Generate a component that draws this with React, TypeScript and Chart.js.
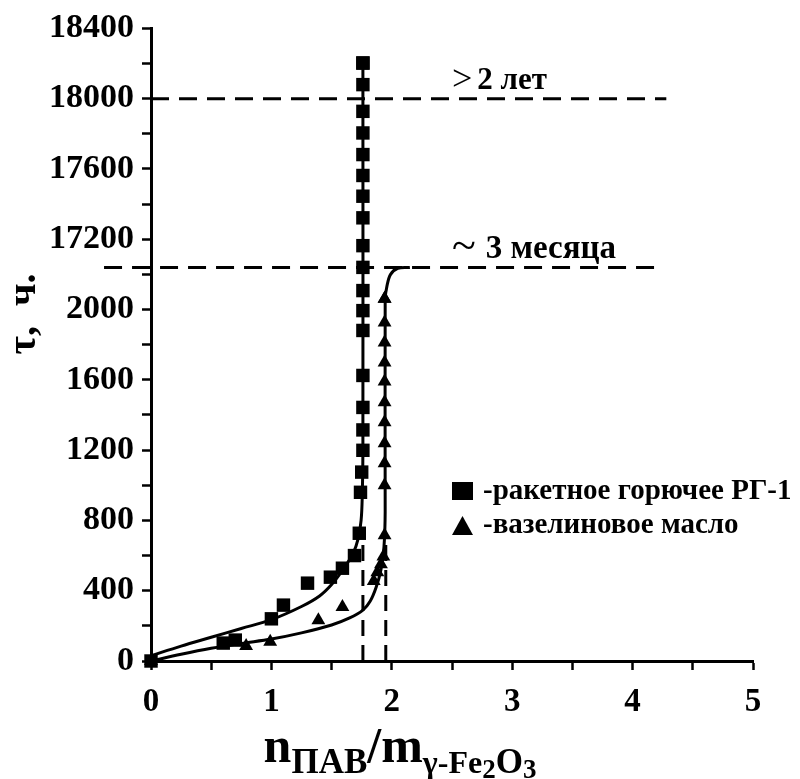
import React, { useEffect, useRef } from 'react';
import { Chart, registerables } from 'chart.js';

Chart.register(...registerables);

const SERIF = '"Liberation Serif", "Times New Roman", serif';

// ---- tick labels (broken y axis: 0..2000 and 17200..18400, one label per 400 h step)
const Y_TICK_LABELS = ['0', '400', '800', '1200', '1600', '2000', '17200', '17600', '18000', '18400'];
const X_TICK_LABELS = ['0', '1', '2', '3', '4', '5'];

// ---- ракетное горючее РГ-1 (squares): x = n/m, y = hours
const RG1_X = [0, 0.6, 0.7, 1.0, 1.1, 1.3, 1.49, 1.59, 1.69, 1.73, 1.74, 1.75, 1.76, 1.76, 1.76, 1.76, 1.76, 1.76, 1.76, 1.76, 1.76, 1.76, 1.76, 1.76, 1.76, 1.76, 1.76, 1.76, 1.76, 1.76];
const RG1_H = [0, 102, 119, 240, 318, 443, 477, 528, 600, 727, 960, 1075, 1199, 1315, 1443, 1625, 1881, 1994, 2108, 2240, 13800, 17322, 17445, 17563, 17682, 17805, 17928, 18080, 18203, 18203];

// ---- вазелиновое масло (triangles)
const VAS_X = [0, 0.79, 0.99, 1.39, 1.59, 1.85, 1.88, 1.91, 1.93, 1.94, 1.94, 1.94, 1.94, 1.94, 1.94, 1.94, 1.94, 1.94, 1.94, 1.94, 1.94];
const VAS_H = [0, 85, 110, 232, 308, 455, 505, 550, 595, 716, 1000, 1125, 1239, 1358, 1472, 1591, 1699, 1812, 1926, 2062, 2062];

// ---- fitted curves
const RG1_FIT_X = [0, 0.25, 0.5, 0.75, 1.0, 1.25, 1.4, 1.5, 1.6, 1.68, 1.72, 1.745, 1.755, 1.76, 1.76];
const RG1_FIT_H = [30, 85, 135, 185, 235, 310, 370, 435, 525, 615, 695, 800, 950, 1200, 18203];
const VAS_FIT_X = [0, 0.25, 0.5, 0.75, 1.0, 1.25, 1.5, 1.65, 1.76, 1.82, 1.87, 1.91, 1.935, 1.945, 1.945, 1.96, 1.99, 2.05, 2.15];
const VAS_FIT_H = [0, 38, 72, 100, 125, 160, 205, 245, 290, 340, 420, 520, 650, 850, 2060, 2135, 2200, 2235, 2240];

// ---- reference levels
const LEVEL_2Y_H = 18000;
const LEVEL_2Y_X = [0, 4.28];
const LEVEL_3M_H = 2240;
const LEVEL_3M_X = [-0.39, 4.25];
const CRIT_X = [1.76, 1.95];
const CRIT_TOP_H = [720, 700];

const LABEL_2Y = '2 лет';
const LABEL_3M = '3 месяца';
const LEGEND_RG1 = '-ракетное горючее РГ-1';
const LEGEND_VAS = '-вазелиновое масло';

// broken-axis mapping: hours -> axis position (one unit per 400 h step)
const BREAK_LOW = 2240;
const BREAK_HIGH = 17200;
function toAxis(h: number): number {
  if (h <= BREAK_LOW) return h / 400;
  if (h >= BREAK_HIGH) return 6 + (h - BREAK_HIGH) / 400;
  return BREAK_LOW / 400 + ((h - BREAK_LOW) / (BREAK_HIGH - BREAK_LOW)) * (6 - BREAK_LOW / 400);
}
const pts = (xs: number[], hs: number[]) => xs.map((x, i) => ({ x, y: toAxis(hs[i]) }));

const overlay = {
  id: 'overlay',
  afterDraw(chart: any) {
    const { ctx, scales } = chart;
    const xs = scales.x;
    const ys = scales.y;
    ctx.save();
    ctx.fillStyle = '#000';
    ctx.strokeStyle = '#000';

    // y axis title
    ctx.save();
    ctx.translate(25, 314);
    ctx.rotate(-Math.PI / 2);
    ctx.textAlign = 'center';
    ctx.textBaseline = 'middle';
    ctx.font = `bold 40px ${SERIF}`;
    ctx.fillText('τ,  ч.', 0, 0);
    ctx.restore();

    // x axis title with subscripts
    const parts: [string, number, number][] = [
      ['n', 50, 0],
      ['ПАВ', 35, 11],
      ['/m', 50, 0],
      ['γ-Fe', 32, 11],
      ['2', 27, 16],
      ['O', 35, 11],
      ['3', 27, 16],
    ];
    let total = 0;
    for (const [t, s] of parts) {
      ctx.font = `bold ${s}px ${SERIF}`;
      total += ctx.measureText(t).width;
    }
    let cx = 400 - total / 2;
    ctx.textAlign = 'left';
    ctx.textBaseline = 'alphabetic';
    for (const [t, s, off] of parts) {
      ctx.font = `bold ${s}px ${SERIF}`;
      ctx.fillText(t, cx, 762 + off);
      cx += ctx.measureText(t).width;
    }

    // level annotations
    const ax = xs.getPixelForValue(2.5);
    const y2 = ys.getPixelForValue(toAxis(LEVEL_2Y_H)) - 10;
    ctx.font = `36px ${SERIF}`;
    ctx.fillText('>', ax, y2 + 1);
    let w = ctx.measureText('>').width;
    ctx.font = `bold 31px ${SERIF}`;
    ctx.fillText(LABEL_2Y, ax + w + 5, y2);

    const y3 = ys.getPixelForValue(toAxis(LEVEL_3M_H)) - 9;
    ctx.font = `44px ${SERIF}`;
    ctx.fillText('~', ax, y3 + 2);
    w = ctx.measureText('~').width;
    ctx.font = `bold 33px ${SERIF}`;
    ctx.fillText(LABEL_3M, ax + w + 10, y3);

    // legend
    const lx = ax;
    ctx.fillRect(lx, 482, 21, 18);
    ctx.font = `bold 29px ${SERIF}`;
    ctx.fillText(LEGEND_RG1, lx + 31, 499);
    ctx.beginPath();
    ctx.moveTo(lx + 10.5, 516);
    ctx.lineTo(lx + 21, 535);
    ctx.lineTo(lx, 535);
    ctx.closePath();
    ctx.fill();
    ctx.fillText(LEGEND_VAS, lx + 31, 533);

    ctx.restore();
  },
};

export default function App() {
  const ref = useRef<HTMLCanvasElement | null>(null);
  useEffect(() => {
    if (!ref.current) return;
    const dash = [18, 10];
    const chart = new Chart(ref.current, {
      type: 'scatter',
      data: {
        datasets: [
          {
            label: 'lvl2y',
            data: LEVEL_2Y_X.map((x) => ({ x, y: toAxis(LEVEL_2Y_H) })),
            showLine: true, borderColor: '#000', borderWidth: 3, borderDash: dash, pointRadius: 0, clip: false,
          } as any,
          {
            label: 'lvl3m',
            data: LEVEL_3M_X.map((x) => ({ x, y: toAxis(LEVEL_3M_H) })),
            showLine: true, borderColor: '#000', borderWidth: 3, borderDash: dash, pointRadius: 0, clip: false,
          },
          {
            label: 'crit1',
            data: [{ x: CRIT_X[0], y: 0 }, { x: CRIT_X[0], y: toAxis(CRIT_TOP_H[0]) }],
            showLine: true, borderColor: '#000', borderWidth: 3, borderDash: [16, 9], pointRadius: 0,
          },
          {
            label: 'crit2',
            data: [{ x: CRIT_X[1], y: 0 }, { x: CRIT_X[1], y: toAxis(CRIT_TOP_H[1]) }],
            showLine: true, borderColor: '#000', borderWidth: 3, borderDash: [16, 9], pointRadius: 0,
          },
          {
            label: 'fitRG1',
            data: pts(RG1_FIT_X, RG1_FIT_H),
            showLine: true, borderColor: '#000', borderWidth: 3, pointRadius: 0, tension: 0.35, clip: false,
          },
          {
            label: 'fitVAS',
            data: pts(VAS_FIT_X, VAS_FIT_H),
            showLine: true, borderColor: '#000', borderWidth: 3, pointRadius: 0, tension: 0.35, clip: false,
          },
          {
            label: 'ракетное горючее РГ-1',
            data: pts(RG1_X, RG1_H),
            pointStyle: 'rect', pointRadius: 9.5, backgroundColor: '#000', borderColor: '#000', borderWidth: 0, clip: false,
          },
          {
            label: 'вазелиновое масло',
            data: pts(VAS_X, VAS_H),
            pointStyle: 'triangle', pointRadius: 8, backgroundColor: '#000', borderColor: '#000', borderWidth: 0, clip: false,
          },
        ],
      },
      options: {
        responsive: false,
        animation: false,
        layout: { padding: { top: 27, right: 47, left: 0, bottom: 0 } },
        plugins: { legend: { display: false }, tooltip: { enabled: false }, title: { display: false } },
        scales: {
          x: {
            type: 'linear', min: 0, max: 5,
            afterFit: (s: any) => { s.height = 118; },
            ticks: {
              stepSize: 0.5, autoSkip: false, maxRotation: 0, padding: 13, color: '#000',
              font: { family: SERIF, size: 33, weight: 'bold' },
              callback: (v: any) => (Number.isInteger(v) ? X_TICK_LABELS[v] : ''),
            },
            grid: { drawOnChartArea: false, drawTicks: true, tickLength: 9, tickWidth: 2.5, tickColor: '#000' },
            border: { display: true, color: '#000', width: 3 },
          },
          y: {
            type: 'linear', min: 0, max: 9,
            afterFit: (s: any) => { s.width = 151; },
            ticks: {
              stepSize: 0.5, autoSkip: false, padding: 8, color: '#000',
              font: { family: SERIF, size: 34, weight: 'bold' },
              callback: (v: any) => (Number.isInteger(v) ? Y_TICK_LABELS[v] : ''),
            },
            grid: { drawOnChartArea: false, drawTicks: true, tickLength: 9, tickWidth: 2.5, tickColor: '#000' },
            border: { display: true, color: '#000', width: 3 },
          },
        },
      },
      plugins: [overlay],
    } as any);
    return () => chart.destroy();
  }, []);
  return (
    <div style={{ position: 'fixed', left: 0, top: 0, width: 800, height: 779, background: '#fff' }}>
      <canvas ref={ref} width={800} height={779} />
    </div>
  );
}
